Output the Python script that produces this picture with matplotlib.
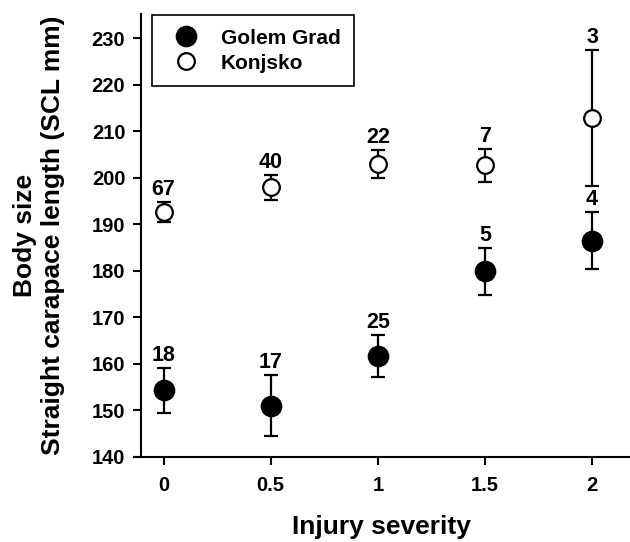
#!/usr/bin/env python3
"""Body size vs injury severity for two tortoise populations."""

import matplotlib

matplotlib.use("Agg")
import matplotlib.pyplot as plt
from matplotlib.lines import Line2D

plt.rcParams["font.family"] = ["Liberation Sans", "DejaVu Sans"]
plt.rcParams["font.weight"] = "bold"

SEVERITY = [0, 0.5, 1, 1.5, 2]
TICK_LABELS = ["0", "0.5", "1", "1.5", "2"]

GOLEM_MEAN = [154.3, 151.0, 161.7, 179.9, 186.5]
GOLEM_ERR = [4.8, 6.6, 4.6, 5.0, 6.1]
GOLEM_N = [18, 17, 25, 5, 4]

KONJSKO_MEAN = [192.7, 198.0, 202.9, 202.7, 212.9]
KONJSKO_ERR = [2.2, 2.7, 3.0, 3.5, 14.6]
KONJSKO_N = [67, 40, 22, 7, 3]


def main() -> None:
    fig = plt.figure(figsize=(6.3, 5.42), dpi=100)
    ax = fig.add_axes([0.212, 0.157, 0.788, 0.817])

    common = dict(fmt="o", color="black", ecolor="black", elinewidth=1.6,
                  capsize=5, capthick=1.6, markeredgewidth=1.6)
    ax.errorbar(SEVERITY, GOLEM_MEAN, yerr=GOLEM_ERR, markersize=14,
                markerfacecolor="black", **common)
    ax.errorbar(SEVERITY, KONJSKO_MEAN, yerr=KONJSKO_ERR, markersize=12,
                markerfacecolor="white", **common)

    for x, m, e, n in zip(SEVERITY, GOLEM_MEAN, GOLEM_ERR, GOLEM_N):
        ax.annotate(str(n), (x, m + e), xytext=(0, 5), textcoords="offset points",
                    ha="center", va="baseline", fontsize=15.5, fontweight="bold")
    for x, m, e, n in zip(SEVERITY, KONJSKO_MEAN, KONJSKO_ERR, KONJSKO_N):
        ax.annotate(str(n), (x, m + e), xytext=(0, 5), textcoords="offset points",
                    ha="center", va="baseline", fontsize=15.5, fontweight="bold")

    ax.set_xlim(-0.14, 2.177)
    ax.set_ylim(140, 235.2)
    ax.set_xticks(SEVERITY)
    ax.set_xticklabels(TICK_LABELS)
    ax.set_yticks(range(140, 231, 10))

    for side in ("top", "right"):
        ax.spines[side].set_visible(False)
    ax.spines["left"].set_position(("data", -0.107))
    for side in ("left", "bottom"):
        ax.spines[side].set_linewidth(1.5)
    ax.tick_params(axis="both", direction="out", length=6, width=1.5, labelsize=14.5)
    ax.tick_params(axis="x", pad=8)
    ax.tick_params(axis="y", pad=5)

    ax.set_xlabel("Injury severity", fontsize=19, fontweight="bold", labelpad=14)
    ax.set_ylabel("Body size\nStraight carapace length (SCL mm)", fontsize=19,
                  fontweight="bold", labelpad=19, linespacing=1.25)

    handles = [
        Line2D([], [], linestyle="none", marker="o", markersize=14, color="black",
               markerfacecolor="black", markeredgewidth=1.6),
        Line2D([], [], linestyle="none", marker="o", markersize=12, color="black",
               markerfacecolor="white", markeredgewidth=1.6),
    ]
    leg = ax.legend(handles, ["Golem Grad", "Konjsko"], loc="upper left",
                    bbox_to_anchor=(0.0376, 0.998), borderaxespad=0,
                    fancybox=False, edgecolor="black", framealpha=1, fontsize=15,
                    borderpad=0.65, labelspacing=0.3, handlelength=1.9, handletextpad=0.75)
    leg.get_frame().set_linewidth(1.2)

    fig.savefig("out.png", dpi=100)


if __name__ == "__main__":
    main()
